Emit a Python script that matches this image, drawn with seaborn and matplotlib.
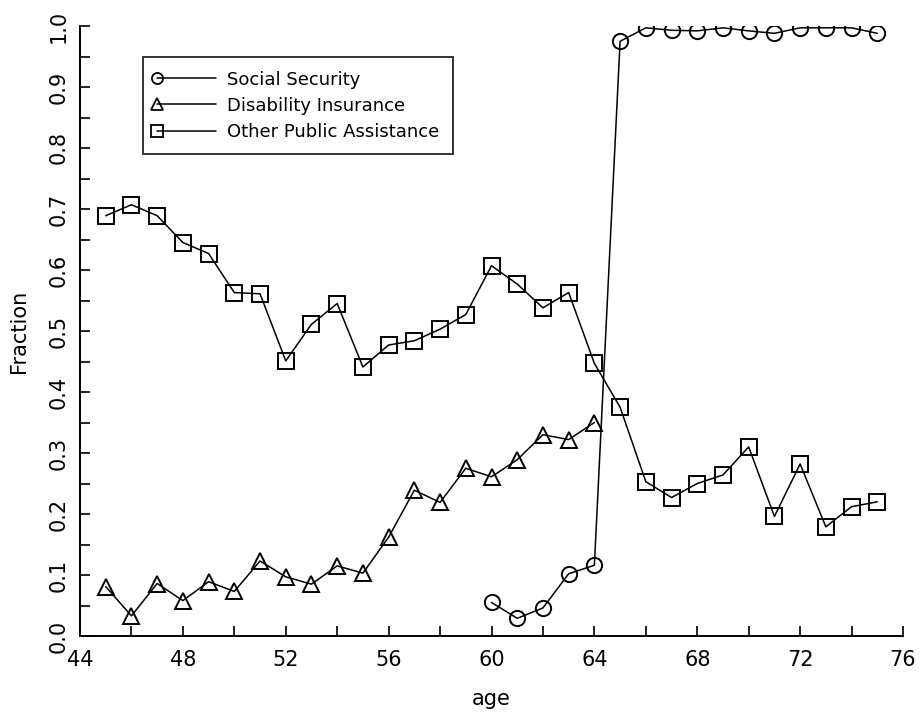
import matplotlib
matplotlib.use("Agg")
import matplotlib.pyplot as plt
import seaborn as sns
import pandas as pd
import numpy as np
from matplotlib.ticker import MultipleLocator
from matplotlib.lines import Line2D
from matplotlib.legend_handler import HandlerLine2D

# ---- data ----
opa_age = list(range(45, 76))
opa_val = [0.689, 0.707, 0.689, 0.645, 0.627, 0.563, 0.561, 0.451, 0.511, 0.545,
           0.441, 0.477, 0.484, 0.503, 0.527, 0.607, 0.577, 0.538, 0.563, 0.447,
           0.375, 0.253, 0.227, 0.250, 0.264, 0.310, 0.196, 0.282, 0.179, 0.212, 0.220]
di_age = list(range(45, 65))
di_val = [0.081, 0.033, 0.086, 0.058, 0.089, 0.073, 0.123, 0.097, 0.085, 0.115,
          0.103, 0.162, 0.239, 0.219, 0.275, 0.261, 0.289, 0.330, 0.322, 0.350]
ss_age = list(range(60, 76))
ss_val = [0.055, 0.029, 0.046, 0.102, 0.116, 0.975, 0.997, 0.993, 0.992, 0.997,
          0.992, 0.988, 0.997, 0.997, 0.997, 0.988]
series_names = ["Social Security", "Disability Insurance", "Other Public Assistance"]
x_ticks = [44, 48, 52, 56, 60, 64, 68, 72, 76]
y_ticks = [0.0, 0.1, 0.2, 0.3, 0.4, 0.5, 0.6, 0.7, 0.8, 0.9, 1.0]

sns.set_style("ticks")
plt.rcParams['font.family'] = ['DejaVu Sans']
plt.rcParams['text.color'] = 'black'
plt.rcParams['axes.labelcolor'] = 'black'

fig = plt.figure(figsize=(9.23, 7.16), dpi=100)
ax = fig.add_axes([80/923, 1-636/716, (903-80)/923, (636-26)/716])

markers = {"Social Security": "o", "Disability Insurance": "^", "Other Public Assistance": "s"}
data = {
    "Social Security": (ss_age, ss_val),
    "Disability Insurance": (di_age, di_val),
    "Other Public Assistance": (opa_age, opa_val),
}
for name in series_names:
    a, v = data[name]
    df = pd.DataFrame({"age": a, "Fraction": v})
    sns.lineplot(data=df, x="age", y="Fraction", ax=ax, color="black", lw=1.1,
                 marker=markers[name], markersize=11, markerfacecolor="none",
                 markeredgecolor="black", markeredgewidth=1.4, legend=False)

ax.set_xlim(44, 76)
ax.set_ylim(0, 1.0)
ax.set_xticks(x_ticks)
ax.set_yticks(y_ticks)
ax.set_yticklabels([f"{t:.1f}" for t in y_ticks], rotation=90, va="center")
ax.xaxis.set_minor_locator(MultipleLocator(2))
ax.yaxis.set_minor_locator(MultipleLocator(0.05))
ax.tick_params(axis="both", which="both", direction="in", width=1.2, colors="black",
               labelsize=15)
ax.tick_params(axis="both", which="major", length=7)
ax.tick_params(axis="both", which="minor", length=7)
ax.tick_params(axis="x", pad=10)
ax.tick_params(axis="y", pad=8)
for s in ["top", "right"]:
    ax.spines[s].set_visible(False)
for s in ["left", "bottom"]:
    ax.spines[s].set_linewidth(1.4)
    ax.spines[s].set_color("black")

ax.set_xlabel("age", fontsize=15, labelpad=14)
ax.set_ylabel("Fraction", fontsize=15, labelpad=14)


class LeftMarkerHandler(HandlerLine2D):
    def create_artists(self, legend, orig_handle, xdescent, ydescent, width, height,
                       fontsize, trans):
        artists = super().create_artists(legend, orig_handle, xdescent, ydescent,
                                         width, height, fontsize, trans)
        for a in artists:
            a.set_markevery([0])
        return artists


handles = [Line2D([], [], color="black", lw=1.1, marker=markers[n], markersize=8,
                  markerfacecolor="none", markeredgecolor="black", markeredgewidth=1.3)
           for n in series_names]
leg = ax.legend(handles, series_names, loc="upper left", bbox_to_anchor=(0.077, 0.949),
                borderaxespad=0.0,
                fontsize=13, handlelength=3.3, frameon=True, numpoints=1,
                fancybox=False, borderpad=0.75, labelspacing=0.45, handletextpad=0.6,
                handler_map={Line2D: LeftMarkerHandler(marker_pad=0.0)})
leg.get_frame().set_edgecolor("black")
leg.get_frame().set_linewidth(1.4)
for t in leg.get_texts():
    t.set_color("black")

fig.savefig("out.png", dpi=100)
